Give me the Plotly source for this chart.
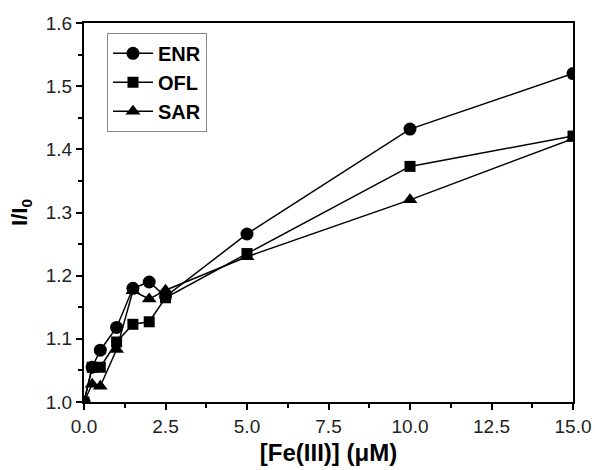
import plotly.graph_objects as go

conc = [0, 0.25, 0.5, 1.0, 1.5, 2.0, 2.5, 5, 10, 15]
enr = [1.0, 1.055, 1.082, 1.118, 1.180, 1.190, 1.167, 1.266, 1.432, 1.520]
ofl = [1.0, 1.055, 1.055, 1.095, 1.123, 1.127, 1.165, 1.235, 1.373, 1.421]
sar = [1.0, 1.028, 1.025, 1.083, 1.176, 1.163, 1.177, 1.230, 1.320, 1.417]

series = [("ENR", enr, "circle", 13), ("OFL", ofl, "square", 11), ("SAR", sar, "triangle-up", 13)]

FONT = "Liberation Sans, Arial, sans-serif"

fig = go.Figure()
for name, ys, sym, sz in series:
    fig.add_trace(go.Scatter(
        x=conc, y=ys, name=name, mode="lines+markers",
        line=dict(color="black", width=1.5),
        marker=dict(symbol=sym, size=sz, color="black"),
    ))

axis_common = dict(
    showline=True, linecolor="black", linewidth=2, mirror=True,
    ticks="outside", ticklen=6, tickwidth=1.5, tickcolor="black",
    showgrid=False, zeroline=False, automargin=False,
    tickfont=dict(family=FONT, size=19, color="#222"),
)
fig.update_xaxes(range=[0, 15], tickvals=[0, 2.5, 5, 7.5, 10, 12.5, 15],
                 ticktext=["0.0", "2.5", "5.0", "7.5", "10.0", "12.5", "15.0"],
                 minor=dict(ticks="outside", ticklen=4, tickwidth=1.5, tickcolor="black", dtick=1.25),
                 title=dict(text="<b>[Fe(III)] (μM)</b>", font=dict(family=FONT, size=24, color="black"), standoff=8),
                 **axis_common)
fig.update_yaxes(range=[1.0, 1.6], tickvals=[1.0, 1.1, 1.2, 1.3, 1.4, 1.5, 1.6],
                 ticktext=["1.0", "1.1", "1.2", "1.3", "1.4", "1.5", "1.6"],
                 minor=dict(ticks="outside", ticklen=4, tickwidth=1.5, tickcolor="black", dtick=0.05),
                 title=dict(text="<b>I/I<sub>0</sub></b>", font=dict(family=FONT, size=22, color="black"), standoff=12),
                 **axis_common)

fig.update_layout(
    width=595, height=470,
    margin=dict(l=84, r=22, t=23, b=68),
    paper_bgcolor="white", plot_bgcolor="white",
    legend=dict(x=0.047, y=0.974, xanchor="left", yanchor="top",
                bordercolor="#888", borderwidth=1, bgcolor="white",
                font=dict(family=FONT, size=20, color="black", weight="bold"),
                itemwidth=40, tracegroupgap=0),
)

fig.write_html("out.html", config={"displayModeBar": False},
               post_script="document.body.style.margin='0';document.body.style.overflow='hidden';")
